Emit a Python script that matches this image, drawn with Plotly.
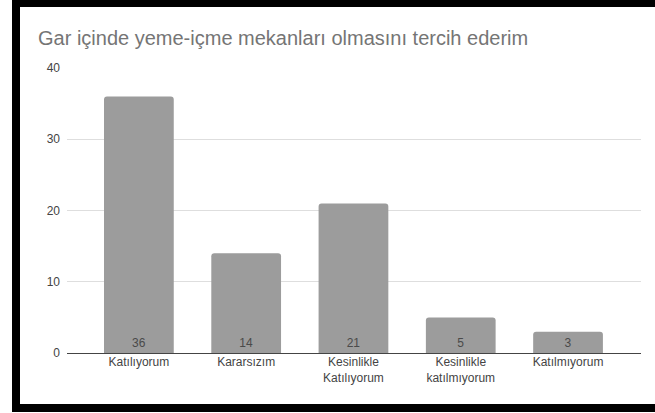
import plotly.graph_objects as go

categories = ["Katılıyorum", "Kararsızım", "Kesinlikle<br>Katılıyorum", "Kesinlikle<br>katılmıyorum", "Katılmıyorum"]
values = [36, 14, 21, 5, 3]
y_ticks = [0, 10, 20, 30, 40]
title_text = "Gar içinde yeme-içme mekanları olmasını tercih ederim"

W, H = 655, 413
L, R, T, B = 67, 14, 68, 60
pw, ph = W - L - R, H - T - B
FONT = "Liberation Sans, Arial, sans-serif"

def px_x(px):
    return (px - L) / pw

def px_y(py):
    return (H - B - py) / ph

fig = go.Figure(go.Bar(
    x=list(range(len(categories))),
    y=values,
    text=[str(v) for v in values],
    textposition="inside",
    insidetextanchor="start",
    constraintext="none",
    textfont=dict(family=FONT, size=12, color="#4a4a4a"),
    marker=dict(color="#9c9c9c", line=dict(width=0), cornerradius=3),
    width=0.65,
    hoverinfo="skip",
))

border = "#000000"
shapes = [
    dict(type="rect", xref="paper", yref="paper", x0=px_x(12), x1=px_x(20), y0=px_y(412), y1=px_y(0),
         fillcolor=border, line=dict(width=0), layer="above"),
    dict(type="rect", xref="paper", yref="paper", x0=px_x(12), x1=px_x(W), y0=px_y(7), y1=px_y(0),
         fillcolor=border, line=dict(width=0), layer="above"),
    dict(type="rect", xref="paper", yref="paper", x0=px_x(12), x1=px_x(W), y0=px_y(412), y1=px_y(404),
         fillcolor=border, line=dict(width=0), layer="above"),
]

fig.update_layout(
    width=W, height=H,
    margin=dict(l=L, r=R, t=T, b=B, pad=0),
    paper_bgcolor="white", plot_bgcolor="white",
    showlegend=False,
    font=dict(family=FONT, color="#444444", size=12),
    title=dict(text=title_text, xref="container", yref="container",
               x=38 / W, xanchor="left", y=1 - 38 / H, yanchor="middle",
               font=dict(family=FONT, size=20, color="#757575")),
    xaxis=dict(
        tickmode="array", tickvals=list(range(len(categories))), ticktext=categories,
        range=[-0.67, 4.68], showgrid=False, zeroline=False, showline=False,
        ticks="", tickfont=dict(size=12, color="#444444"), fixedrange=True,
    ),
    yaxis=dict(
        range=[0, 40], tickmode="array", tickvals=y_ticks,
        showgrid=True, gridcolor="#dedede", gridwidth=1,
        zeroline=True, zerolinecolor="#444444", zerolinewidth=1,
        showline=False, ticks="", ticklabelstandoff=6,
        tickfont=dict(size=12, color="#444444"), fixedrange=True,
    ),
    shapes=shapes,
)

fig.write_html(
    "out.html",
    config={"displayModeBar": False},
    post_script="document.body.style.margin='0';document.body.style.overflow='hidden';",
)
